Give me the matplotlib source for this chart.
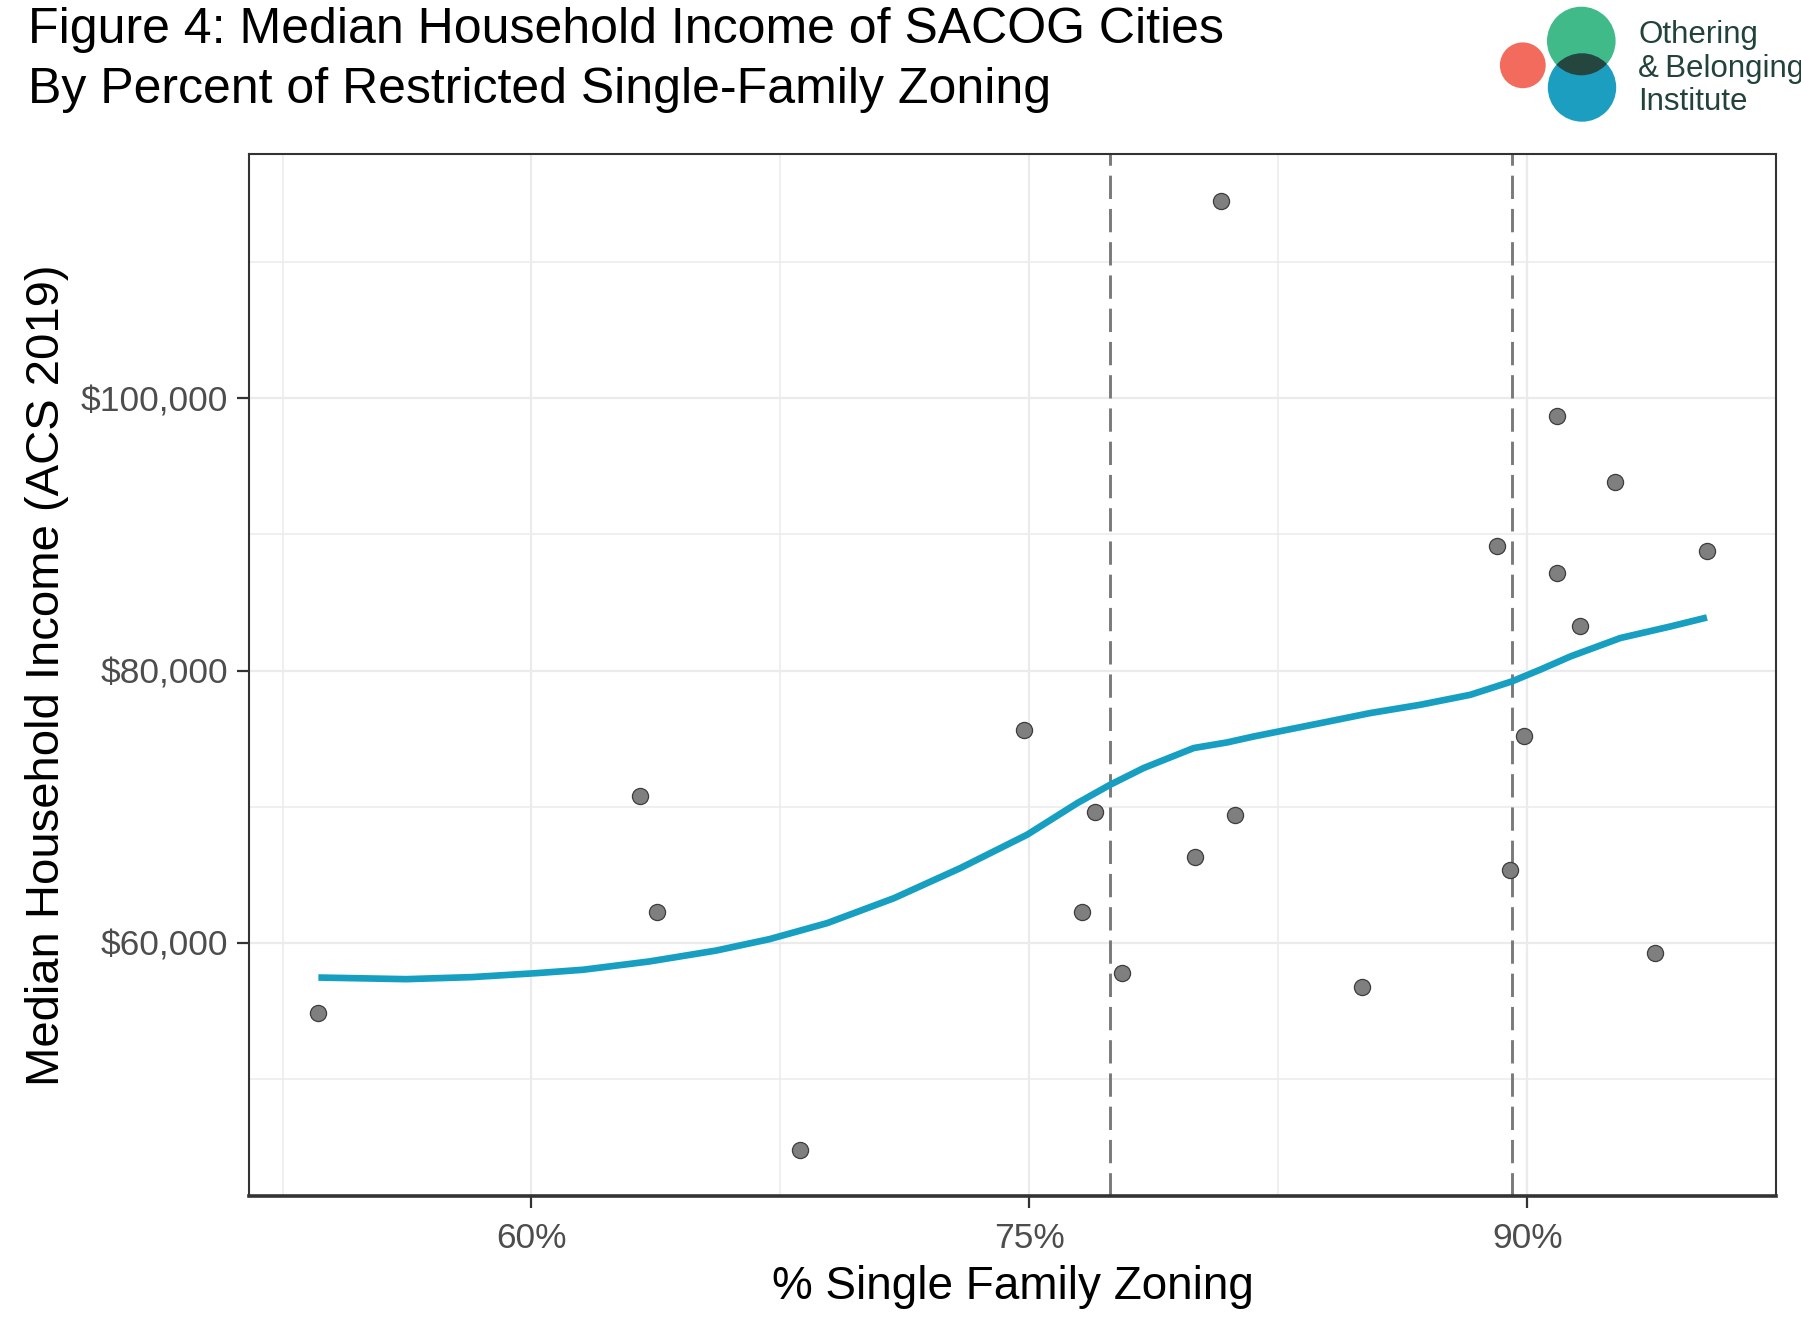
import matplotlib
matplotlib.use("Agg")

import matplotlib.pyplot as plt
from matplotlib.patches import Circle
from matplotlib.ticker import FuncFormatter, FixedLocator

plt.rcParams['font.family'] = ['Liberation Sans', 'DejaVu Sans']

# City points: % single family zoning vs median household income
zoning_pct = [53.58, 63.27, 63.78, 68.10, 74.83, 76.59, 76.99, 77.79, 80.00, 80.76, 81.20,
              85.02, 89.09, 89.49, 89.89, 90.89, 90.89, 91.60, 92.65, 93.86, 95.41]
median_income = [54830, 70750, 62300, 44810, 75650, 62300, 69600, 57770, 66340, 114510, 69400,
                 56790, 89120, 65360, 75160, 98670, 87160, 83240, 93890, 59240, 88750]

# loess trend
trend_x = [53.58, 56.23, 58.20, 60.14, 61.55, 63.55, 65.56, 67.17, 68.91, 70.92, 72.92,
           74.93, 76.44, 77.43, 78.44, 79.95, 80.95, 81.76, 83.77, 85.27, 86.78, 88.28,
           89.53, 90.40, 91.30, 92.80, 94.31, 95.41]
trend_y = [57450, 57330, 57480, 57770, 58020, 58630, 59430, 60270, 61450, 63280, 65490,
           67940, 70260, 71610, 72840, 74310, 74720, 75160, 76140, 76880, 77490, 78220,
           79200, 80080, 81040, 82390, 83240, 83900]

# dashed reference lines
cutoffs = [77.43, 89.53]

x_ticks = [60, 75, 90]
x_minor = [52.5, 67.5, 82.5, 97.5]
y_ticks = [60000, 80000, 100000]
y_minor = [50000, 70000, 90000, 110000]

W, H = 1801, 1333
fig = plt.figure(figsize=(W / 100, H / 100), dpi=100)
ax = fig.add_axes([249 / W, 1 - 1196 / H, (1776 - 249) / W, (1196 - 154) / H])

ax.set_xlim(51.49, 97.49)
ax.set_ylim(41400, 117950)

# grid
ax.xaxis.set_major_locator(FixedLocator(x_ticks))
ax.xaxis.set_minor_locator(FixedLocator(x_minor))
ax.yaxis.set_major_locator(FixedLocator(y_ticks))
ax.yaxis.set_minor_locator(FixedLocator(y_minor))
ax.grid(which='major', color='#ebebeb', lw=1.6, zorder=0)
ax.grid(which='minor', color='#ebebeb', lw=1.1, zorder=0)
ax.set_axisbelow(True)

for c in cutoffs:
    ax.axvline(c, color='#7a7a7a', lw=2.1, dashes=(8.0, 3.4), zorder=2)

ax.plot(trend_x, trend_y, color='#179fc2', lw=4.8, solid_capstyle='butt',
        solid_joinstyle='round', zorder=3)
ax.scatter(zoning_pct, median_income, s=135, facecolor='#7f7f7f', edgecolor='#3d3d3d',
           linewidth=0.9, zorder=4)

ax.xaxis.set_major_formatter(FuncFormatter(lambda v, p: f"{v:.0f}%"))
ax.yaxis.set_major_formatter(FuncFormatter(lambda v, p: f"${v:,.0f}"))
ax.tick_params(which='major', length=8.6, width=1.6, color='#333333',
               labelsize=25.5, labelcolor='#4d4d4d')
ax.tick_params(axis='x', pad=10)
ax.tick_params(axis='y', pad=6.5)
ax.tick_params(which='minor', length=0)

for side, sp in ax.spines.items():
    sp.set_color('#333333')
    sp.set_linewidth(1.5)
ax.spines['bottom'].set_linewidth(2.6)

ax.set_xlabel('% Single Family Zoning', fontsize=33, color='black')
ax.set_ylabel('Median Household Income (ACS 2019)', fontsize=34, color='black')
ax.xaxis.label.set_va('baseline')
ax.yaxis.label.set_va('baseline')
ax.xaxis.set_label_coords(0.5, (1196 - 1299) / (1196 - 154))
ax.yaxis.set_label_coords((59 - 249) / (1776 - 249), 0.5)

# title
fig.text(28 / W, 1 - 43 / H, 'Figure 4: Median Household Income of SACOG Cities',
         fontsize=36, va='baseline', ha='left')
fig.text(28 / W, 1 - 103 / H, 'By Percent of Restricted Single-Family Zoning',
         fontsize=36, va='baseline', ha='left')

# logo
lx0, lx1, ly0, ly1 = 1480, 1801, 0, 130
lax = fig.add_axes([lx0 / W, 1 - ly1 / H, (lx1 - lx0) / W, (ly1 - ly0) / H])
lax.set_xlim(lx0, lx1)
lax.set_ylim(ly1, ly0)
lax.axis('off')
lax.add_patch(Circle((1522.8, 65.3), 22.9, color='#f26b5c', lw=0))
green = Circle((1581.3, 41.0), 34.3, color='#3fba88', lw=0)
blue = Circle((1582.0, 87.5), 34.2, color='#1b9ec0', lw=0)
lax.add_patch(green)
lax.add_patch(blue)
overlap = Circle((1581.3, 41.0), 34.3, color='#25463f', lw=0)
lax.add_patch(overlap)
overlap.set_clip_path(blue)

for txt, yb in [('Othering', 43), ('&\u2009Belonging', 76.5), ('Institute', 110)]:
    fig.text(1638 / W, 1 - yb / H, txt, fontsize=22.5, color='#22433b',
             va='baseline', ha='left')

fig.savefig('out.png', dpi=100)
